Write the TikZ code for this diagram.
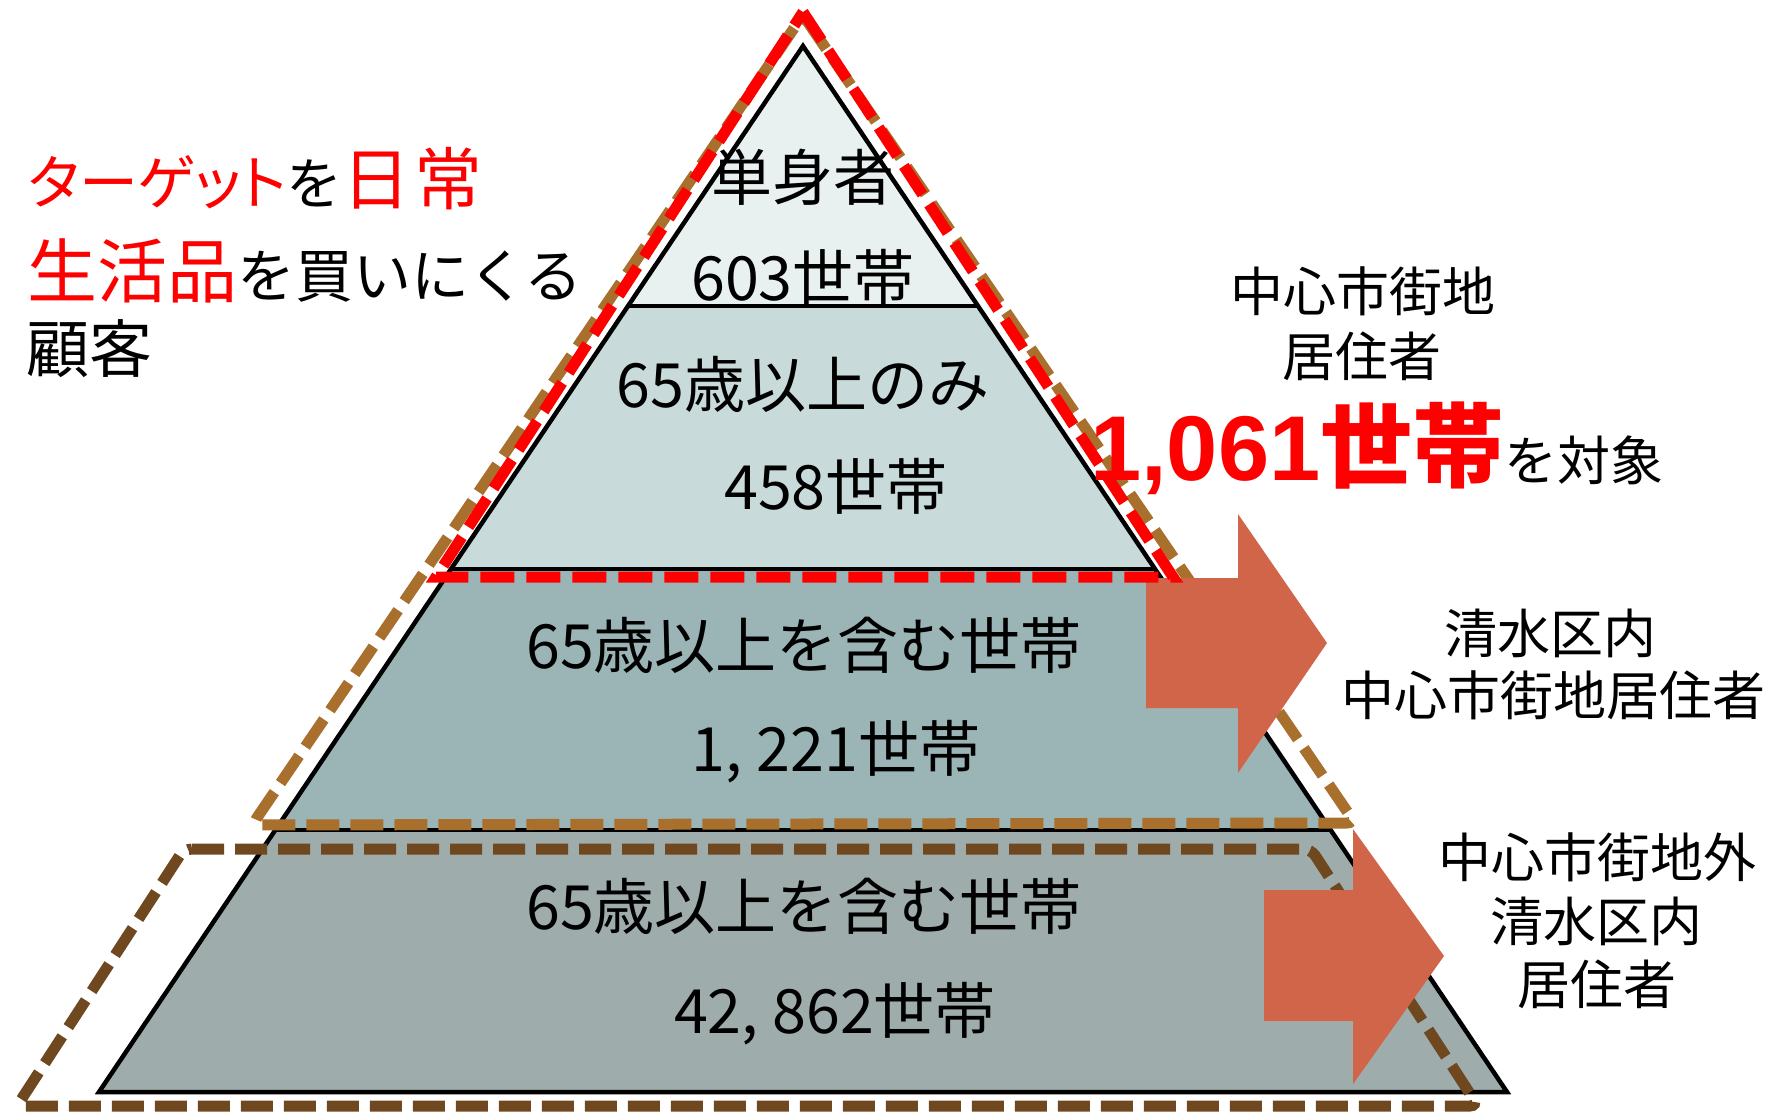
\documentclass[tikz,border=0pt]{standalone}
\usepackage{fontspec}
\setmainfont{Noto Sans CJK JP}
\newfontfamily\latinbold{Liberation Sans}
\newfontfamily\cjkpalt{Noto Sans CJK JP}[RawFeature=+palt]
\definecolor{layA}{HTML}{E9F1F0}
\definecolor{layB}{HTML}{C9DADA}
\definecolor{layC}{HTML}{9BB5B6}
\definecolor{layD}{HTML}{9FACAC}
\definecolor{arrowc}{HTML}{D1654A}
\definecolor{brownA}{HTML}{A86F2D}
\definecolor{brownB}{HTML}{6F4820}
\newcommand{\fs}[1]{\fontsize{#1}{#1}\selectfont}
\tikzset{
  pyrline/.style={draw=black, line width=4.5pt, line join=miter},
  reddash/.style={draw=red, line width=11pt, dash pattern=on 34pt off 12pt, line join=miter},
  browndash/.style={draw=brownA, line width=11pt, dash pattern=on 33pt off 11pt, rounded corners=8pt},
  dbrowndash/.style={draw=brownB, line width=11pt, dash pattern=on 32pt off 11pt, rounded corners=8pt},
  bigarrow/.style={fill=arrowc},
  pyrtext/.style={anchor=base, inner sep=0pt, font=\fs{61}},
  sidetext/.style={anchor=base, inner sep=0pt, font=\fs{53}},
}
\begin{document}
\begin{tikzpicture}[x=1pt,y=-1pt]
\useasboundingbox[fill=white] (0,0) rectangle (1769,1111);
% pyramid layers
\fill[layA] (803,46) -- (978,306) -- (628,306) -- cycle;
\fill[layB] (628,306) -- (978,306) -- (1155,569) -- (451,569) -- cycle;
\fill[layC] (451,569) -- (1155,569) -- (1330.6,830) -- (275.4,830) -- cycle;
\fill[layD] (275.4,830) -- (1330.6,830) -- (1507,1092) -- (99,1092) -- cycle;
\draw[pyrline] (803,46) -- (1507,1092) -- (99,1092) -- cycle;
\draw[pyrline] (628,306) -- (978,306);
\draw[pyrline] (451,569) -- (1155,569);
\draw[pyrline] (275.4,830) -- (1330.6,830);
% dashed outlines
\draw[browndash] (803,15) -- (1355,823) -- (252,825) -- cycle;
\draw[dbrowndash] (184,849) -- (1311,849) -- (1478,1106) -- (17,1106) -- cycle;
% arrows
\fill[bigarrow] (1146,578) -- (1238,578) -- (1238,514) -- (1327,643) -- (1238,773) -- (1238,708) -- (1146,708) -- cycle;
\fill[bigarrow] (1264,890) -- (1353,890) -- (1353,829) -- (1444,956) -- (1353,1084) -- (1353,1021) -- (1264,1021) -- cycle;
% red dashed triangle
\draw[reddash] (803,12) -- (1173,577) -- (436,577) -- cycle;
% pyramid texts
\node[pyrtext] (p1a) at (803,200) {単身者};
\node[pyrtext] (p1b) at (803,300) {603世帯};
\node[pyrtext] (p2a) at (803,407) {65歳以上のみ};
\node[pyrtext] (p2b) at (836,509) {458世帯};
\node[pyrtext] (p3a) at (804,668) {65歳以上を含む世帯};
\node[pyrtext] (p3b) at (836,771) {1, 221世帯};
\node[pyrtext] (p4a) at (804,929) {65歳以上を含む世帯};
\node[pyrtext] (p4b) at (835,1033) {42, 862世帯};
% left text
\node[anchor=base west, inner sep=0pt] (l1) at (28,204)
  {{\fs{59}\cjkpalt\color{red}ターゲット}{\fs{56}を}{\fs{68}\color{red}日\hspace{4pt}常}};
\node[anchor=base west, inner sep=0pt] (l2) at (27,297)
  {{\fs{70}\color{red}生活品}{\fs{58}を買いにくる}};
\node[anchor=base west, inner sep=0pt] (l3) at (26,372) {\fs{63}顧客};
% right texts
\node[sidetext] (r1a) at (1363,311) {中心市街地};
\node[sidetext] (r1b) at (1362,376) {居住者};
\node[anchor=base west, inner sep=0pt, text=red] (r1c) at (1090,480)
  {{\fs{92}\latinbold\bfseries 1,061}{\fs{92}\bfseries 世帯}{\fs{53}\color{black}を対象}};
\node[sidetext] (r2a) at (1550,653) {清水区内};
\node[sidetext] (r2b) at (1553,715) {中心市街地居住者};
\node[sidetext] (r3a) at (1597,877) {中心市街地外};
\node[sidetext] (r3b) at (1596,941) {清水区内};
\node[sidetext] (r3c) at (1597,1004) {居住者};
\end{tikzpicture}
\end{document}
